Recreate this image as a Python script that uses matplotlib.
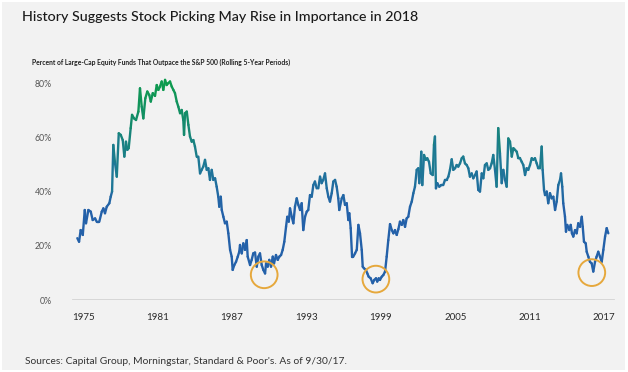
#! /usr/bin/env python3
import matplotlib.pyplot as plt
import numpy as np
from matplotlib.collections import LineCollection
from matplotlib.colors import LinearSegmentedColormap
from matplotlib.patches import Rectangle

# decimal year, percent of funds beating the S&P 500 (rolling 5-year)
years = [
    1974.54, 1974.68, 1974.81, 1974.98, 1975.14, 1975.24, 1975.43, 1975.62, 1975.78, 1975.97,
    1976.10, 1976.31, 1976.51, 1976.64, 1976.77, 1976.91, 1977.12, 1977.23, 1977.34, 1977.44,
    1977.58, 1977.72, 1977.88, 1978.04, 1978.20, 1978.33, 1978.46, 1978.57, 1978.68, 1978.84,
    1978.95, 1979.11, 1979.27, 1979.46, 1979.59, 1979.73, 1979.86, 1980.02, 1980.18, 1980.34,
    1980.46, 1980.62, 1980.80, 1980.94, 1981.07, 1981.20, 1981.34, 1981.47, 1981.61, 1981.74,
    1981.87, 1982.01, 1982.15, 1982.28, 1982.41, 1982.55, 1982.68, 1982.82, 1982.95, 1983.08,
    1983.14, 1983.22, 1983.36, 1983.49, 1983.62, 1983.76, 1983.89, 1984.02, 1984.16, 1984.29,
    1984.43, 1984.56, 1984.69, 1984.83, 1984.97, 1985.10, 1985.23, 1985.37, 1985.50, 1985.64,
    1985.77, 1985.90, 1985.98, 1986.10, 1986.18, 1986.31, 1986.44, 1986.58, 1986.71, 1986.85,
    1986.98, 1987.06, 1987.19, 1987.33, 1987.47, 1987.59, 1987.65, 1987.79, 1987.92, 1988.05,
    1988.19, 1988.27, 1988.46, 1988.59, 1988.72, 1988.86, 1989.00, 1989.13, 1989.26, 1989.40,
    1989.53, 1989.67, 1989.75, 1989.88, 1990.01, 1990.15, 1990.29, 1990.39, 1990.55, 1990.69,
    1990.82, 1990.96, 1991.09, 1991.22, 1991.36, 1991.46, 1991.58, 1991.68, 1991.82, 1991.95,
    1992.08, 1992.22, 1992.35, 1992.49, 1992.62, 1992.75, 1992.89, 1993.03, 1993.15, 1993.29,
    1993.43, 1993.56, 1993.69, 1993.83, 1993.96, 1994.10, 1994.23, 1994.36, 1994.50, 1994.64,
    1994.77, 1994.90, 1995.04, 1995.17, 1995.31, 1995.44, 1995.57, 1995.65, 1995.85, 1995.98,
    1996.11, 1996.25, 1996.38, 1996.46, 1996.57, 1996.68, 1996.78, 1996.92, 1997.06, 1997.19,
    1997.32, 1997.46, 1997.54, 1997.64, 1997.80, 1997.91, 1998.02, 1998.18, 1998.34, 1998.47,
    1998.61, 1998.71, 1998.83, 1998.93, 1999.07, 1999.20, 1999.34, 1999.47, 1999.60, 1999.74,
    1999.88, 2000.01, 2000.14, 2000.28, 2000.41, 2000.54, 2000.68, 2000.81, 2000.95, 2001.08,
    2001.21, 2001.35, 2001.49, 2001.62, 2001.75, 2001.89, 2002.02, 2002.10, 2002.18, 2002.26,
    2002.34, 2002.48, 2002.62, 2002.74, 2002.88, 2003.02, 2003.18, 2003.28, 2003.36, 2003.44,
    2003.55, 2003.71, 2003.87, 2004.03, 2004.17, 2004.31, 2004.44, 2004.57, 2004.71, 2004.84,
    2004.98, 2005.11, 2005.24, 2005.38, 2005.52, 2005.64, 2005.78, 2005.92, 2006.05, 2006.18,
    2006.32, 2006.45, 2006.59, 2006.72, 2006.85, 2006.99, 2007.13, 2007.26, 2007.39, 2007.53,
    2007.66, 2007.80, 2007.93, 2008.06, 2008.20, 2008.33, 2008.46, 2008.60, 2008.74, 2008.87,
    2009.01, 2009.14, 2009.27, 2009.41, 2009.55, 2009.68, 2009.81, 2009.95, 2010.08, 2010.21,
    2010.35, 2010.48, 2010.62, 2010.75, 2010.88, 2011.02, 2011.16, 2011.29, 2011.42, 2011.56,
    2011.69, 2011.83, 2011.96, 2012.04, 2012.15, 2012.23, 2012.37, 2012.49, 2012.63, 2012.77,
    2012.90, 2013.04, 2013.17, 2013.30, 2013.44, 2013.52, 2013.62, 2013.70, 2013.84, 2013.92,
    2014.02, 2014.19, 2014.30, 2014.40, 2014.51, 2014.65, 2014.78, 2014.91, 2015.05, 2015.19,
    2015.27, 2015.37, 2015.51, 2015.59, 2015.72, 2015.85, 2015.99, 2016.12, 2016.26, 2016.39,
    2016.52, 2016.66, 2016.80, 2016.93, 2017.07, 2017.20, 2017.33,
]
pct = [
    22.8, 21.5, 25.8, 24.0, 33.2, 28.3, 33.2, 32.6, 29.5, 30.1,
    28.9, 28.9, 32.6, 33.8, 32.0, 34.4, 35.7, 38.1, 40.0, 57.2,
    50.4, 45.5, 61.5, 60.9, 59.0, 52.9, 58.4, 55.4, 56.0, 63.4,
    68.3, 67.0, 66.4, 69.5, 78.1, 71.3, 67.0, 74.4, 76.9, 75.6,
    73.2, 76.3, 75.3, 79.3, 77.5, 78.7, 80.6, 77.5, 81.2, 79.3,
    80.0, 80.6, 78.7, 77.5, 76.3, 73.2, 71.3, 68.9, 70.1, 66.4,
    60.9, 68.9, 69.5, 64.6, 60.3, 58.4, 59.0, 56.6, 52.9, 52.9,
    46.7, 48.0, 49.2, 51.7, 48.0, 48.6, 44.3, 48.0, 44.3, 44.9,
    41.8, 38.1, 34.4, 38.1, 33.2, 30.7, 28.3, 28.9, 24.6, 18.5,
    16.0, 11.1, 12.9, 14.1, 16.0, 17.8, 20.3, 17.2, 20.9, 18.5,
    22.1, 16.0, 12.9, 14.8, 17.2, 17.5, 12.3, 16.0, 17.2, 12.9,
    11.1, 9.8, 13.5, 12.3, 14.8, 12.3, 16.0, 13.5, 16.6, 14.8,
    16.0, 16.6, 18.5, 21.5, 27.0, 30.7, 28.9, 33.8, 30.7, 28.3,
    34.4, 37.5, 35.1, 33.2, 35.7, 25.8, 30.7, 32.6, 33.2, 38.7,
    38.1, 42.4, 43.7, 41.2, 41.2, 45.5, 43.1, 44.3, 46.7, 41.2,
    38.1, 36.3, 39.4, 43.7, 44.3, 41.8, 37.5, 33.2, 37.5, 38.7,
    35.1, 35.7, 29.5, 32.0, 26.5, 16.0, 16.0, 17.2, 18.5, 27.7,
    24.6, 18.5, 12.3, 11.7, 11.1, 9.8, 8.6, 8.0, 6.2, 7.4,
    8.0, 6.8, 8.0, 7.4, 8.6, 9.2, 10.5, 16.0, 22.1, 28.0,
    25.8, 24.6, 25.8, 24.0, 26.1, 28.9, 27.7, 29.5, 27.0, 30.1,
    30.7, 34.4, 36.3, 39.4, 41.8, 48.0, 48.6, 43.1, 47.4, 54.7,
    42.4, 53.5, 51.7, 52.3, 51.0, 46.7, 46.1, 57.2, 60.3, 41.2,
    43.1, 41.8, 42.4, 42.4, 44.3, 44.3, 45.5, 48.0, 51.9, 48.0,
    48.6, 49.8, 49.2, 50.4, 52.3, 52.9, 50.4, 49.8, 48.6, 45.5,
    46.7, 44.9, 46.1, 47.4, 40.6, 40.0, 46.7, 44.9, 49.8, 50.4,
    48.0, 48.6, 50.4, 53.5, 48.0, 41.8, 63.4, 54.1, 43.1, 48.0,
    44.3, 41.8, 59.6, 58.4, 52.9, 56.0, 55.4, 54.7, 52.3, 52.3,
    51.0, 49.8, 46.1, 48.6, 48.0, 49.8, 52.3, 51.7, 52.3, 50.4,
    48.6, 48.6, 56.6, 48.0, 40.6, 38.7, 40.0, 35.7, 39.4, 37.5,
    38.1, 33.2, 36.3, 42.4, 44.3, 46.7, 41.8, 35.7, 30.7, 25.2,
    27.7, 25.8, 27.7, 24.6, 23.4, 25.8, 24.6, 28.3, 27.0, 30.7,
    27.0, 21.5, 20.9, 17.8, 16.0, 14.1, 13.5, 10.5, 14.1, 16.0,
    17.8, 16.0, 14.1, 18.5, 23.4, 26.5, 24.6,
]

# troughs highlighted with orange rings
trough_years = [1989.6, 1998.6, 2016.0]
trough_pct = [9.3, 7.7, 10.1]

tick_years = [1975, 1981, 1987, 1993, 1999, 2005, 2011, 2017]
tick_pct = [0, 20, 40, 60, 80]

fig = plt.figure(figsize=(6.28, 3.72), dpi=100)
fig.patch.set_facecolor('white')
bg = Rectangle((2 / 628, 2 / 372), 623 / 628, 368 / 372, transform=fig.transFigure,
               facecolor='#f2f2f2', edgecolor='none', zorder=-10)
fig.patches.append(bg)

ax = fig.add_axes([70 / 628, 72 / 372, 545 / 628, 225 / 372], zorder=5)
ax.set_facecolor('none')
for s in ax.spines.values():
    s.set_visible(False)

# line coloured by its value: blue at the bottom, green near the top
cmap = LinearSegmentedColormap.from_list(
    'bg', [(0, '#2461a9'), (0.42, '#2461a9'), (0.62, '#1e7896'),
           (0.8, '#15896f'), (1, '#0e9b4e')])
x = np.array(years)
y = np.array(pct)
pts = np.column_stack([x, y]).reshape(-1, 1, 2)
segs = np.concatenate([pts[:-1], pts[1:]], axis=1)
lc = LineCollection(segs, cmap=cmap, norm=plt.Normalize(0, 80), linewidth=1.7,
                    capstyle='round', joinstyle='round', zorder=3)
lc.set_array((y[:-1] + y[1:]) / 2)
ax.add_collection(lc)

ax.scatter(trough_years, trough_pct, s=370, facecolors='none',
           edgecolors='#e6a83c', linewidths=1.4, zorder=4)

ax.axhline(0, xmin=3 / 545, xmax=543 / 545, color='#d4d4d4', lw=2, zorder=1)

ax.set_xlim(1973.95, 2017.87)
ax.set_ylim(0, 83.0)

font = ['Lato', 'DejaVu Sans']
ax.set_xticks(tick_years, [str(t) for t in tick_years])
ax.set_yticks(tick_pct, [f'{p}%' for p in tick_pct])
ax.tick_params(length=0)
ax.tick_params(axis='x', pad=9, labelsize=7, labelcolor='#2a2a2a')
ax.tick_params(axis='y', pad=13, labelsize=6.3, labelcolor='#555555')
for lab in ax.get_xticklabels() + ax.get_yticklabels():
    lab.set_family(font)

fig.text(22 / 628, 1 - 17 / 372,
         'History Suggests Stock Picking May Rise in Importance in 2018',
         fontsize=10.3, family=font, weight='medium', color='#1a1a1a', va='center')
fig.text(32 / 628, 1 - 62 / 372,
         'Percent of Large-Cap Equity Funds That Outpace the S&P 500 (Rolling 5-Year Periods)',
         fontsize=4.9, family=font, weight='bold', color='#222222', va='center')
fig.text(25 / 628, 1 - 362 / 372,
         "Sources: Capital Group, Morningstar, Standard & Poor's. As of 9/30/17.",
         fontsize=7.4, family=font, color='#333333', va='center')

plt.savefig('out.png', dpi=100, facecolor=fig.get_facecolor())
